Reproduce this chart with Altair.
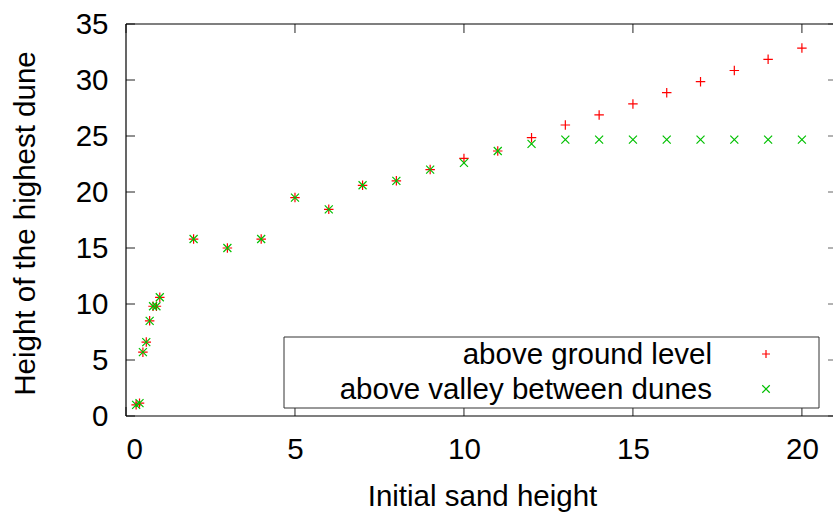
import altair as alt
import pandas as pd

# ---- data ----
sand = [0.3, 0.4, 0.5, 0.6, 0.7, 0.8, 0.9, 1.0, 2, 3, 4, 5, 6, 7, 8, 9, 10,
        11, 12, 13, 14, 15, 16, 17, 18, 19, 20]
ground = [1.0, 1.15, 5.7, 6.6, 8.5, 9.8, 9.8, 10.6, 15.8, 15.0, 15.8, 19.5,
          18.45, 20.6, 21.0, 22.0, 23.0, 23.66, 24.85, 25.98, 26.88, 27.86,
          28.87, 29.85, 30.85, 31.85, 32.85]
valley = [1.0, 1.15, 5.7, 6.6, 8.5, 9.8, 9.8, 10.6, 15.8, 15.0, 15.8, 19.5,
          18.45, 20.6, 21.0, 22.0, 22.6, 23.66, 24.3, 24.67, 24.67, 24.67,
          24.67, 24.67, 24.67, 24.67, 24.67]
x_ticks = [0, 5, 10, 15, 20]
y_ticks = [0, 5, 10, 15, 20, 25, 30, 35]
legend_labels = ["above ground level", "above valley between dunes"]

W, H = 707, 392
FONT = "Liberation Sans"
FS = 29.5
RED = "#ff0000"
GREEN = "#00c000"
PLUS = "M-1,0L1,0M0,-1L0,1"
CROSS = "M-1,-1L1,1M-1,1L1,-1"

df = pd.DataFrame({"sand": sand, "ground": ground, "valley": valley})
xt = pd.DataFrame({"v": x_ticks})
yt = pd.DataFrame({"v": y_ticks})

xscale = alt.Scale(domain=[0, 20.92], nice=False, zero=False)
yscale = alt.Scale(domain=[0, 35], nice=False, zero=False)

xaxis = alt.Axis(values=x_ticks, ticks=False, tickSize=0, domain=False, grid=False,
                 labelFont=FONT, labelFontSize=FS, labelColor="black",
                 labelPadding=19, title="Initial sand height",
                 titleFont=FONT, titleFontSize=FS, titleFontWeight="normal",
                 titleColor="black", titleX=356, titleY=80,
                 titleAlign="center", titleBaseline="middle")
yaxis = alt.Axis(values=y_ticks, ticks=False, tickSize=0, domain=False, grid=False,
                 labelFont=FONT, labelFontSize=FS, labelColor="black",
                 labelPadding=18, title="Height of the highest dune",
                 titleFont=FONT, titleFontSize=FS, titleFontWeight="normal",
                 titleColor="black", titleAngle=270, titleX=-101, titleY=199,
                 titleAlign="center", titleBaseline="middle")

base = alt.Chart(df)

pts_ground = base.mark_point(shape=PLUS, size=90, filled=False, strokeWidth=1.2,
                             color=RED, opacity=1).encode(
    x=alt.X("sand:Q", scale=xscale, axis=xaxis),
    y=alt.Y("ground:Q", scale=yscale, axis=yaxis))
pts_valley = base.mark_point(shape=CROSS, size=64, filled=False, strokeWidth=1.2,
                             color=GREEN, opacity=1).encode(
    x=alt.X("sand:Q", scale=xscale),
    y=alt.Y("valley:Q", scale=yscale))

one = alt.Data(values=[{"a": 1}])
frame_col = "black"
top = alt.Chart(one).mark_rule(color=frame_col, strokeWidth=1.2).encode(
    x=alt.value(0), x2=alt.value(W + 5), y=alt.value(0))
bottom = alt.Chart(one).mark_rule(color=frame_col, strokeWidth=1.2).encode(
    x=alt.value(0), x2=alt.value(W + 5), y=alt.value(H))
left = alt.Chart(one).mark_rule(color=frame_col, strokeWidth=1.2).encode(
    x=alt.value(0), y=alt.value(0), y2=alt.value(H))

tick_col = "#222222"
tl = alt.Chart(yt).mark_rule(color=tick_col, strokeWidth=1).encode(
    y=alt.Y("v:Q", scale=yscale), x=alt.value(0), x2=alt.value(9))
tr = alt.Chart(yt).mark_rule(color="#666666", strokeWidth=1).encode(
    y=alt.Y("v:Q", scale=yscale), x=alt.value(W - 5), x2=alt.value(W + 2))
tb = alt.Chart(xt).mark_rule(color=tick_col, strokeWidth=1).encode(
    x=alt.X("v:Q", scale=xscale), y=alt.value(H - 9), y2=alt.value(H))
tt = alt.Chart(xt).mark_rule(color=tick_col, strokeWidth=1).encode(
    x=alt.X("v:Q", scale=xscale), y=alt.value(0), y2=alt.value(9))

# legend box (gnuplot style: text right-aligned, symbol at right)
box = alt.Chart(one).mark_rect(fill="white", stroke="#333333", strokeWidth=1).encode(
    x=alt.value(158), x2=alt.value(693), y=alt.value(313), y2=alt.value(384))
lt1 = alt.Chart(one).mark_text(align="right", baseline="middle", font=FONT,
                               fontSize=FS, color="black").encode(
    x=alt.value(586), y=alt.value(331), text=alt.value(legend_labels[0]))
lt2 = alt.Chart(one).mark_text(align="right", baseline="middle", font=FONT,
                               fontSize=FS, color="black").encode(
    x=alt.value(586), y=alt.value(366), text=alt.value(legend_labels[1]))
lm1 = alt.Chart(one).mark_point(shape=PLUS, size=64, filled=False, strokeWidth=1.2,
                                color=RED, opacity=1).encode(
    x=alt.value(640), y=alt.value(330))
lm2 = alt.Chart(one).mark_point(shape=CROSS, size=56, filled=False, strokeWidth=1.2,
                                color=GREEN, opacity=1).encode(
    x=alt.value(640), y=alt.value(365))

chart = alt.layer(
    tl, tr, tb, tt, top, bottom, left,
    pts_ground, pts_valley,
    box, lt1, lt2, lm1, lm2,
).resolve_scale(x="shared", y="shared").properties(
    width=W, height=H,
    padding={"left": 126, "top": 24, "right": 0, "bottom": 101},
    autosize=alt.AutoSizeParams(type="none"),
    background="white",
).configure_view(stroke=None)

chart.save("out.html", embed_options={"renderer": "svg", "actions": False})
